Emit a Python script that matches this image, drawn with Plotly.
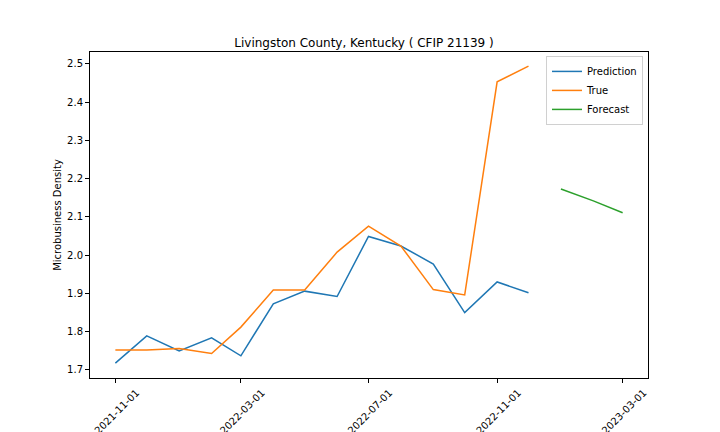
import plotly.graph_objects as go

dates = ['2021-11-01', '2021-12-01', '2022-01-01', '2022-02-01', '2022-03-01',
         '2022-04-01', '2022-05-01', '2022-06-01', '2022-07-01', '2022-08-01',
         '2022-09-01', '2022-10-01', '2022-11-01', '2022-12-01']
prediction = [1.718, 1.789, 1.750, 1.784, 1.737, 1.873, 1.906, 1.892, 2.049,
              2.024, 1.977, 1.850, 1.930, 1.902]
true_vals = [1.752, 1.752, 1.756, 1.743, 1.812, 1.909, 1.909, 2.008, 2.076,
             2.024, 1.910, 1.896, 2.453, 2.494]
forecast_dates = ['2023-01-01', '2023-02-01', '2023-03-01']
forecast = [2.173, 2.142, 2.111]

tick_vals = ['2021-11-01', '2022-03-01', '2022-07-01', '2022-11-01', '2023-03-01']
y_ticks = [1.7, 1.8, 1.9, 2.0, 2.1, 2.2, 2.3, 2.4, 2.5]

fig = go.Figure()
fig.add_trace(go.Scatter(x=dates, y=prediction, mode='lines', name='Prediction',
                         line=dict(color='#1f77b4', width=1.5)))
fig.add_trace(go.Scatter(x=dates, y=true_vals, mode='lines', name='True',
                         line=dict(color='#ff7f0e', width=1.5)))
fig.add_trace(go.Scatter(x=forecast_dates, y=forecast, mode='lines', name='Forecast',
                         line=dict(color='#2ca02c', width=1.5)))

axis_style = dict(showline=True, linecolor='black', linewidth=1, mirror=True,
                  ticks='outside', ticklen=4, tickcolor='black', showgrid=False,
                  zeroline=False, automargin=False, tickfont=dict(size=10, color='black'))

# the page body adds ~8px offset, so the figure is shrunk to fit the window
fig.update_layout(
    width=712, height=424,
    margin=dict(l=82, r=72, t=44, b=54),
    paper_bgcolor='white', plot_bgcolor='white',
    font=dict(family='DejaVu Sans', size=10, color='black'),
    title=dict(text='Livingston County, Kentucky ( CFIP 21139 )', x=0.5, xanchor='center',
               y=0.908, yanchor='bottom', font=dict(size=12)),
    showlegend=True,
    legend=dict(x=0.991, y=0.988, xanchor='right', yanchor='top',
                bordercolor='#d0d0d0', borderwidth=1, bgcolor='white',
                font=dict(size=10), tracegroupgap=0, itemwidth=30),
)
fig.update_xaxes(**axis_style, tickvals=tick_vals, tickformat='%Y-%m-%d', tickangle=-45,
                 ticklabelshift=21,
                 range=['2021-10-07 18:00', '2023-03-25 06:00'])
fig.update_yaxes(**axis_style, tickvals=y_ticks, tickformat='.1f', range=[1.679, 2.531],
                 title=dict(text='Microbusiness Density', font=dict(size=10), standoff=3))

fig.write_html("out.html")
